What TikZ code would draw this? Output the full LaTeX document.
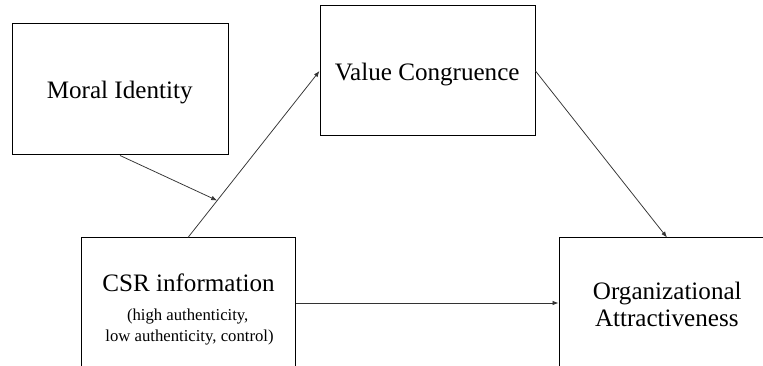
\documentclass[tikz,border=0pt]{standalone}
\usepackage{fontspec}
\setmainfont{Liberation Serif}
\usetikzlibrary{arrows.meta,calc}
\tikzset{
  boxst/.style={draw=black, line width=1pt, minimum width=#1, inner sep=0pt, rectangle},
  big/.style={font=\fontsize{25.1}{28}\selectfont, inner sep=0pt, anchor=base},
  small/.style={font=\fontsize{16.7}{21.7}\selectfont, inner sep=0pt, anchor=base},
  arr/.style={draw=black!80, line width=0.75pt, -{Latex[length=6pt,width=4.5pt]}}
}
\begin{document}
\begin{tikzpicture}[x=1pt,y=-1pt]
\useasboundingbox (0,0) rectangle (763,366);
\clip (0,0) rectangle (763,366);
\fill[white] (0,0) rectangle (763,366);
% boxes
\node[boxst=216pt, minimum height=131pt] (mi) at (120,89.5) {};
\node[boxst=215pt, minimum height=130pt] (vc) at (427.5,71) {};
\node[boxst=214pt, minimum height=130pt] (csr) at (188,303) {};
\node[boxst=216pt, minimum height=130pt] (oa) at (667,303) {};
% texts
\node[big] (mitxt) at (119.7,99) {Moral Identity};
\node[big] (vctxt) at (427.2,81) {Value Congruence};
\node[big] (csrA) at (188.5,291.7) {CSR information};
\node[small] (csrB) at (187.7,320) {(high authenticity,};
\node[small] (csrC) at (189.5,341.7) {low authenticity, control)};
\node[big] (oaA) at (667.3,299) {Organizational};
\node[big] (oaB) at (666.8,326.7) {Attractiveness};
% connectors
\coordinate (mod) at ($(csr.north)!0.222!(vc.west)$);
\draw[arr] (csr.north) -- (vc.west);
\draw[arr] (mi.south) -- (mod);
\draw[arr] (vc.east) -- (oa.north);
\draw[arr] (csr.east) -- (oa.west);
\end{tikzpicture}
\end{document}
